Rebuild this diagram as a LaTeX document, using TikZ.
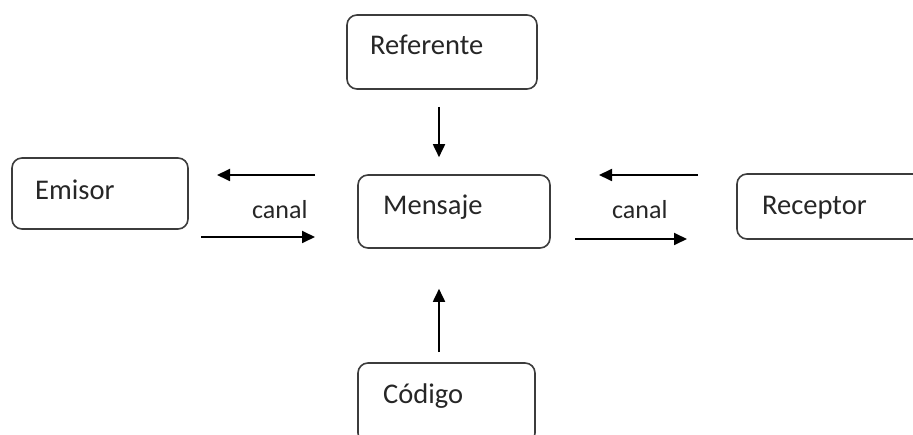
\documentclass[tikz,border=0pt]{standalone}
\usepackage{fontspec}
\setmainfont{Carlito}
\usetikzlibrary{arrows.meta}
\definecolor{boxline}{HTML}{3C3C3C}
\definecolor{txt}{HTML}{262626}
\begin{document}
\begin{tikzpicture}[x=1pt,y=-1pt,
  box/.style={draw=boxline,line width=1.6pt,rounded corners=10pt,
    inner sep=0pt,anchor=center},
  boxtext/.style={text=txt,font=\fontsize{28.5}{30}\selectfont,inner sep=0pt,anchor=base west},
  arr/.style={line width=1.8pt,-{Triangle[length=13pt,width=12pt]}},
  lbl/.style={text=txt,font=\fontsize{26}{28}\selectfont,inner sep=0pt,anchor=base west}]
\useasboundingbox (0,0) rectangle (913,435);
\clip (0,0) rectangle (913,435);
% boxes
\node[box,minimum width=190pt,minimum height=74pt] (ref) at (442,52) {};
\node[box,minimum width=176pt,minimum height=71pt] (emi) at (100,193.5) {};
\node[box,minimum width=192pt,minimum height=73pt] (men) at (454,211.5) {};
\node[box,minimum width=190pt,minimum height=65pt] (rec) at (832,206.5) {};
\node[box,minimum width=177pt,minimum height=80pt] (cod) at (446.5,403) {};
% box texts
\node[boxtext] (refT) at (370,55) {Referente};
\node[boxtext] (emiT) at (35,200) {Emisor};
\node[boxtext] (menT) at (383,215) {Mensaje};
\node[boxtext] (recT) at (762,215) {Receptor};
\node[boxtext] (codT) at (383,403) {Código};
% vertical arrows
\draw[arr,shorten <=17pt,shorten >=17pt] (ref.south -| 439,0) -- (men.north -| 439,0);
\draw[arr,shorten <=10pt,shorten >=40pt] (cod.north -| 439,0) -- (men.south -| 439,0);
% left channel
\coordinate (l1s) at (315,175);
\coordinate (l1e) at (217,175);
\coordinate (l2s) at (201,237);
\coordinate (l2e) at (315,237);
\draw[arr] (l1s) -- (l1e);
\draw[arr] (l2s) -- (l2e);
\node[lbl] (canal1) at (252,219) {canal};
% right channel
\coordinate (r1s) at (698,175);
\coordinate (r1e) at (599,175);
\coordinate (r2s) at (575,239);
\coordinate (r2e) at (687,239);
\draw[arr] (r1s) -- (r1e);
\draw[arr] (r2s) -- (r2e);
\node[lbl] (canal2) at (612,219) {canal};
\end{tikzpicture}
\end{document}
